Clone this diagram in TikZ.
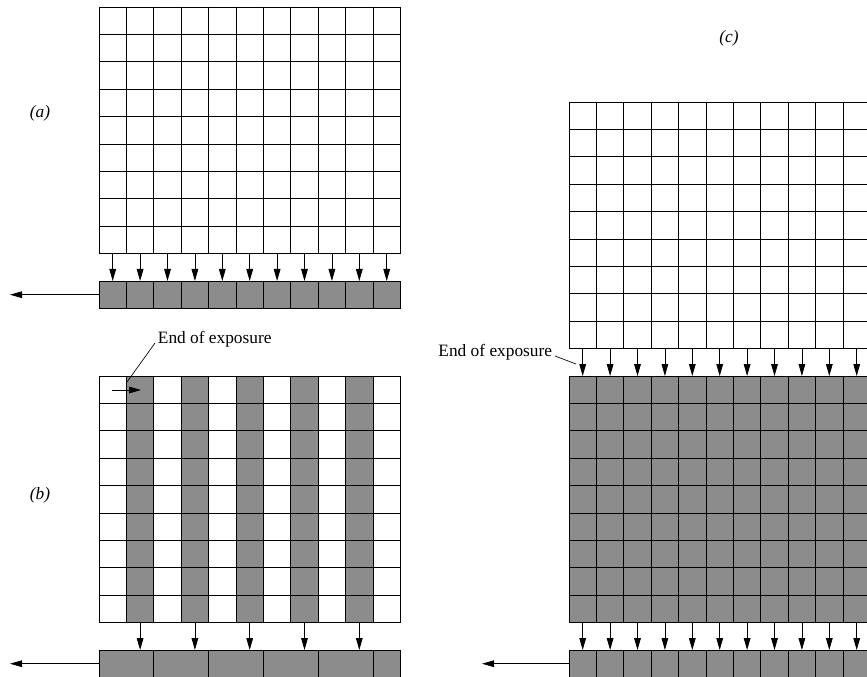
\documentclass[tikz,border=0pt]{standalone}
\usepackage{fontspec}
\setmainfont{Liberation Serif}
\usetikzlibrary{arrows.meta}
\definecolor{regfill}{gray}{0.55}

\begin{document}
\begin{tikzpicture}[x=0.75pt, y=-0.75pt,
    cell/.style={line width=0.6pt},
    reg/.style={draw, fill=regfill, line width=0.6pt, inner sep=0pt, outer sep=0pt, anchor=north west, minimum height=20.55pt},
    one/.style={reg, minimum width=20.55pt},
    two/.style={reg, minimum width=41.1pt},
    arr/.style={-{Triangle[length=9pt, width=5pt]}, line width=0.6pt},
    tag/.style={font=\fontsize{13}{15}\selectfont\itshape},
    note/.style={font=\fontsize{13}{15}\selectfont, inner sep=2pt}
]
\useasboundingbox (0,0) rectangle (867,677);

\node[tag] (taga) at (40,113) {(a)};
\node[tag] (tagb) at (40,495) {(b)};
\node[tag] (tagc) at (729,38) {(c)};

% (a)
\foreach \i in {0,...,11} \draw[cell] (99+27.4*\i,7) -- (99+27.4*\i,253.6);
\foreach \j in {0,...,9} \draw[cell] (99,7+27.4*\j) -- (400.4,7+27.4*\j);
\foreach \i in {1,...,11} {
  \coordinate (ac\i) at (85.3+27.4*\i,253.6);
  \node[one] (ra\i) at (71.6+27.4*\i,281) {};
  \draw[arr] (ac\i) -- (ra\i.north);
}
\coordinate (aout) at (10,294.7);
\draw[arr] (ra1.west) -- (aout);

% (b)
\foreach \k in {1,...,5} \fill[regfill] (71.6+54.8*\k,376) rectangle ++(27.4,246.6);
\foreach \i in {0,...,11} \draw[cell] (99+27.4*\i,376) -- (99+27.4*\i,622.6);
\foreach \j in {0,...,9} \draw[cell] (99,376+27.4*\j) -- (400.4,376+27.4*\j);
\foreach \k in {1,...,5} {
  \coordinate (bc\k) at (85.3+54.8*\k,622.6);
  \node[two] (rb\k) at (44.2+54.8*\k,650) {};
  \draw[arr] (bc\k) -- (bc\k |- rb\k.north);
}
\node[one] (rb6) at (373,650) {};
\coordinate (bout) at (10,663.7);
\draw[arr] (rb1.west) -- (bout);

\node[note, anchor=base west] (bexp) at (155,343) {End of exposure};
\coordinate (bline) at (127,382);
\draw[line width=0.5pt] (bexp.base west) -- (bline);
\coordinate (bs) at (112,390);
\coordinate (bt) at (141,390);
\draw[arr] (bs) -- (bt);

% (c)
\foreach \i in {0,...,11} \draw[cell] (569+27.4*\i,102) -- (569+27.4*\i,348.6);
\foreach \j in {0,...,9} \draw[cell] (569,102+27.4*\j) -- (870.4,102+27.4*\j);
\fill[regfill] (569,376) rectangle (870.4,622.6);
\foreach \i in {0,...,11} \draw[cell] (569+27.4*\i,376) -- (569+27.4*\i,622.6);
\foreach \j in {0,...,9} \draw[cell] (569,376+27.4*\j) -- (870.4,376+27.4*\j);
\foreach \i in {1,...,11} {
  \coordinate (cu\i) at (555.3+27.4*\i,348.6);
  \coordinate (cg\i) at (555.3+27.4*\i,376);
  \coordinate (cl\i) at (555.3+27.4*\i,622.6);
  \node[one] (rc\i) at (541.6+27.4*\i,650) {};
  \draw[arr] (cu\i) -- (cg\i);
  \draw[arr] (cl\i) -- (rc\i.north);
}
\coordinate (cout) at (482,663.7);
\draw[arr] (rc1.west) -- (cout);

\node[note, anchor=base east] (cexp) at (555,356) {End of exposure};
\coordinate (cline) at (576,364);
\draw[line width=0.5pt] (cexp.base east) -- (cline);
\end{tikzpicture}
\end{document}
